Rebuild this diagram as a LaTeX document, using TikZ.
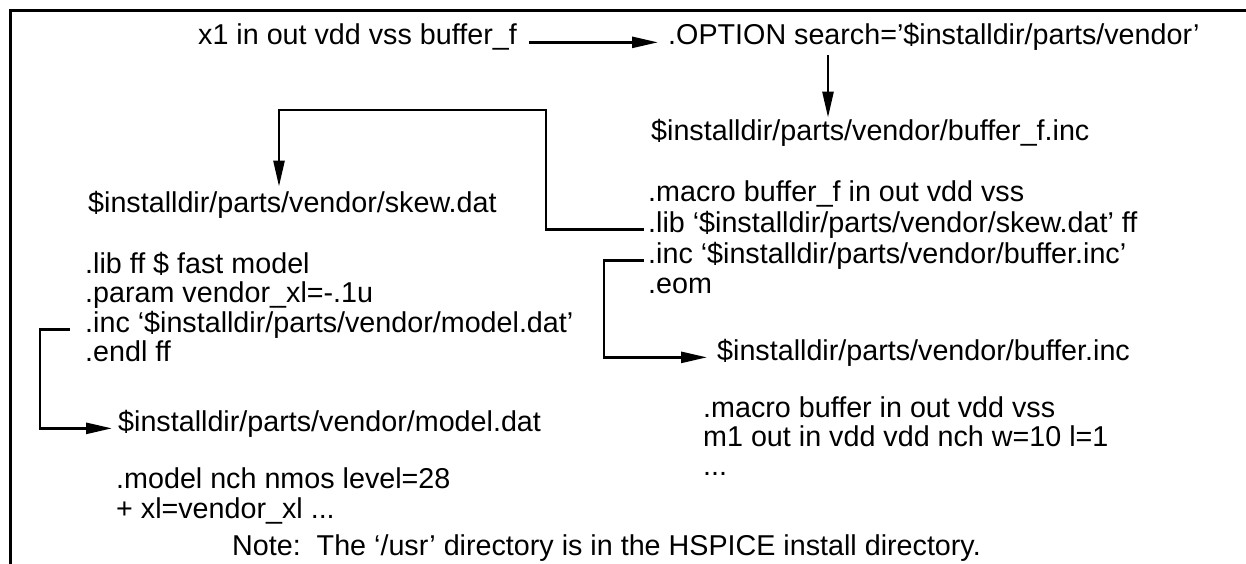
\documentclass[tikz,border=0pt]{standalone}
\usepackage{fontspec}
\setmainfont{Liberation Sans}
\usetikzlibrary{arrows.meta}
\begin{document}
\begin{tikzpicture}[x=1pt,y=-1pt,
  txt/.style={anchor=base west,inner sep=0pt,font=\fontsize{28.7pt}{30pt}\selectfont},
  conn/.style={line width=2.6pt,-{Triangle[length=26pt,width=11pt]}},
  frame/.style={line width=3pt}]
\useasboundingbox (0,0) rectangle (1246,564);
\draw[frame] (10.5,564) -- (10.5,10.5) -- (1246,10.5);

% top line
\node[txt] (x1) at (198,45) {x1 in out vdd vss buffer\_f};
\node[txt] (opt) at (668,45) {.OPTION search=’\$installdir/parts/vendor’};

% buffer_f.inc block
\node[txt] (bfi) at (651,141) {\$installdir/parts/vendor/buffer\_f.inc};
\node[txt] (mac) at (648,201) {.macro buffer\_f in out vdd vss};
\node[txt] (lib) at (648,232) {.lib ‘\$installdir/parts/vendor/skew.dat’ ff};
\node[txt] (inc) at (648,263) {.inc ‘\$installdir/parts/vendor/buffer.inc’};
\node[txt] (eom) at (648,293) {.eom};

% skew.dat block
\node[txt] (skh) at (88,212) {\$installdir/parts/vendor/skew.dat};
\node[txt] (lff) at (85,273) {.lib ff \$ fast model};
\node[txt] (par) at (85,302) {.param vendor\_xl=-.1u};
\node[txt] (incm) at (85,332) {.inc ‘\$installdir/parts/vendor/model.dat’};
\node[txt] (endl) at (85,361) {.endl ff};

% buffer.inc block
\node[txt] (bhd) at (717,360) {\$installdir/parts/vendor/buffer.inc};
\node[txt] (mb) at (703,417) {.macro buffer in out vdd vss};
\node[txt] (m1) at (703,446) {m1 out in vdd vdd nch w=10 l=1};
\node[txt] (dots) at (703,475) {...};

% model.dat block
\node[txt] (mhd) at (118,431) {\$installdir/parts/vendor/model.dat};
\node[txt] (mod) at (116,488) {.model nch nmos level=28};
\node[txt] (xl) at (116,518) {+ xl=vendor\_xl ...};

% note
\node[txt] (note) at (232,555) {Note:\ \ The ‘/usr’ directory is in the HSPICE install directory.};

% routing coordinates
\coordinate (dx) at (828,0);
\coordinate (s1) at (546,110);
\coordinate (s2) at (279,110);
\coordinate (b1) at (604,0);
\coordinate (m0) at (40,0);

% connectors
\draw[conn] ([xshift=12pt]x1.mid east) -- ([xshift=-10pt]opt.mid west);
\draw[conn] ([yshift=-4pt]opt.south -| dx) -- ([yshift=2pt]bfi.north -| dx);
\draw[conn] ([xshift=-4pt]lib.mid west) -| (s1) -- (s2) -- ([yshift=4pt]skh.north -| s2);
\draw[conn] ([xshift=-4pt]inc.mid west) -| (b1 |- bhd.mid) -- ([xshift=-10pt]bhd.mid west);
\draw[conn] ([xshift=-15pt]incm.mid west) -| (m0 |- mhd.mid) -- ([xshift=-6pt]mhd.mid west);
\end{tikzpicture}
\end{document}
